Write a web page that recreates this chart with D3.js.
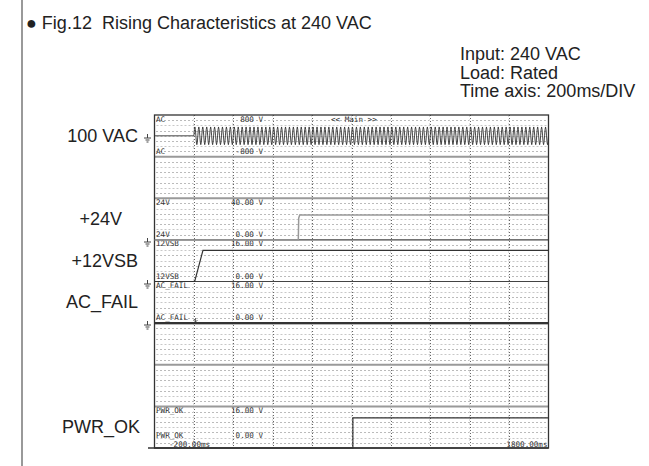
<!doctype html>
<meta charset="utf-8">
<body style="margin:0;background:#fff">
<script src="https://cdn.jsdelivr.net/npm/d3@7"></script>
<script>

// channel setup
var timeDomain = [-200, 1800];                 // ms, 200ms/DIV, 10 DIV
var channelNames = ["AC", "24V", "12VSB", "AC_FAIL", "PWR_OK"];
var channelZones = [0, 2, 3, 4, 7];            // which of the 8 zones
var channelMax = [800, 40, 16, 16, 16];
var channelMin = [-800, 0, 0, 0, 0];
var maxLabels = ["800 V", "40.00 V", "16.00 V", "16.00 V", "16.00 V"];
var minLabels = ["-800 V", "0.00 V", "0.00 V", "0.00 V", "0.00 V"];
var sideLabels = ["100 VAC", "+24V", "+12VSB", "AC_FAIL", "PWR_OK"];
var timeLabels = ["-200.00ms", "1800.00ms"];
var infoLines = ["Input: 240 VAC", "Load: Rated", "Time axis: 200ms/DIV"];
var title = "\u25CF Fig.12  Rising Characteristics at 240 VAC";

// AC input: one cycle in volts, repeated from switch-on
var acStart = 0, acPeriod = 20;
var acCycle = [0, 240, 340, 240, 0, -240, -340, -240];

// [ms, V]
var v24 = [[-200, 0], [530, 0], [532, 21], [537, 24], [1800, 24]];
var v12sb = [[-200, 0], [4, 0], [46, 12], [1800, 12]];
var acFail = [[-200, 0], [1800, 0]];
var pwrOk = [[-200, 0], [807, 0], [807, 11.6], [1800, 11.6]];

var W = 649, H = 466;
var svg = d3.select("body").append("svg")
    .attr("width", W)
    .attr("height", H)
    .style("display", "block");

// page border line on the left
svg.append("line")
    .attr("x1", 22).attr("x2", 22).attr("y1", 0).attr("y2", H)
    .attr("stroke", "#555").attr("stroke-width", 1.2);

svg.append("text")
    .attr("x", 26).attr("y", 29)
    .style("font", "18px 'Liberation Sans', Arial, sans-serif")
    .style("white-space", "pre")
    .attr("fill", "#222")
    .text(title);

svg.selectAll(".info")
    .data(infoLines)
  .enter().append("text")
    .attr("class", "info")
    .attr("x", 460)
    .attr("y", function(d, i) { return 60 + i * 18.5; })
    .style("font", "18px 'Liberation Sans', Arial, sans-serif")
    .attr("fill", "#222")
    .text(function(d) { return d; });

// scope scales
var x = d3.scaleLinear().domain(timeDomain).range([154.5, 548.5]);
var zone = d3.scaleLinear().domain([0, 8]).range([115, 448]);
var zh = zone(1) - zone(0);

function yOf(c) {
  var z = channelZones[c];
  return d3.scaleLinear()
      .domain([channelMin[c], channelMax[c]])
      .range([zone(z + 1), zone(z)]);
}

var scope = svg.append("g");

// dotted grid: 8 rows per zone, one column per division
var rows = d3.range(0, 8).flatMap(function(z) { return d3.range(1, 8).map(function(k) { return [z, k]; }); });
scope.selectAll(".hrow")
    .data(rows)
  .enter().append("line")
    .attr("x1", x(timeDomain[0]) + 2).attr("x2", x(timeDomain[1]) - 1)
    .attr("y1", function(d) { return Math.round(zone(d[0]) + d[1] * zh / 8) + 0.5; })
    .attr("y2", function(d) { return Math.round(zone(d[0]) + d[1] * zh / 8) + 0.5; })
    .attr("stroke", function(d) { return d[1] % 2 ? "#777" : "#c8c8c8"; })
    .attr("stroke-dasharray", function(d) { return d[1] % 2 ? "1,3" : "2,2"; });

var divs = d3.range(timeDomain[0] + 200, timeDomain[1], 200);
scope.selectAll(".vcol")
    .data(divs)
  .enter().append("line")
    .attr("x1", function(d) { return Math.round(x(d)) + 0.5; })
    .attr("x2", function(d) { return Math.round(x(d)) + 0.5; })
    .attr("y1", zone(0)).attr("y2", zone(8))
    .attr("stroke", "#666")
    .attr("stroke-dasharray", "1,2");
scope.selectAll(".vcol2")
    .data(divs)
  .enter().append("line")
    .attr("x1", function(d) { return Math.round(x(d)) - 0.5; })
    .attr("x2", function(d) { return Math.round(x(d)) - 0.5; })
    .attr("y1", zone(0)).attr("y2", zone(8))
    .attr("stroke", "#ddd")
    .attr("stroke-dasharray", "2,2");

// zone separators
var seps = d3.range(1, 8);
scope.selectAll(".sep")
    .data(seps)
  .enter().append("line")
    .attr("x1", x(timeDomain[0])).attr("x2", x(timeDomain[1]))
    .attr("y1", function(d) { return zone(d); })
    .attr("y2", function(d) { return zone(d); })
    .attr("stroke", function(d) { return (d == 3 || d == 4) ? "#444" : "#9a9a9a"; })
    .attr("stroke-width", function(d) { return (d == 3 || d == 4) ? 1.2 : 2; });

// frame
scope.append("rect")
    .attr("x", x(timeDomain[0])).attr("y", zone(0))
    .attr("width", x(timeDomain[1]) - x(timeDomain[0]))
    .attr("height", zone(8) - zone(0))
    .attr("fill", "none").attr("stroke", "#333").attr("stroke-width", 1.3);
scope.append("line")
    .attr("x1", 148).attr("x2", x(timeDomain[1]))
    .attr("y1", zone(8)).attr("y2", zone(8))
    .attr("stroke", "#333").attr("stroke-width", 1.3);

// on-screen labels
var mono = "7.6px 'DejaVu Sans Mono', monospace";
channelNames.forEach(function(name, c) {
  var z = channelZones[c];
  var yTop = zone(z) + 6.5;
  var yBot = z == 7 ? zone(z + 1) - 10 : zone(z + 1) - 3;
  [[yTop, maxLabels[c]], [yBot, minLabels[c]]].forEach(function(p) {
    scope.append("text").attr("x", 156).attr("y", p[0])
        .style("font", mono).attr("fill", "#333").text(name);
    scope.append("text").attr("x", 263).attr("y", p[0])
        .attr("text-anchor", "end")
        .style("font", mono).attr("fill", "#333").text(p[1]);
  });
});
scope.append("text").attr("x", 331).attr("y", zone(0) + 6.5)
    .style("font", mono).attr("fill", "#333").text("<< Main >>");
scope.append("text").attr("x", 169).attr("y", zone(8) - 1)
    .style("font", mono).attr("fill", "#333").text(timeLabels[0]);
scope.append("text").attr("x", x(timeDomain[1]) - 1).attr("y", zone(8) - 1)
    .attr("text-anchor", "end")
    .style("font", mono).attr("fill", "#333").text(timeLabels[1]);

// small trigger mark on the AC_FAIL line
var tf = Math.round(yOf(3)(0));
scope.append("path")
    .attr("d", "M195.5," + (tf - 5) + "V" + (tf - 1) + "M193.5," + (tf - 3) + "L195.5," + (tf - 1) + "L197.5," + (tf - 3))
    .attr("stroke", "#444").attr("fill", "none").attr("stroke-width", 0.8);

// ground markers at each zero level
[0, 1, 2, 3].forEach(function(c) {
  var gy = Math.round(yOf(c)(0)) + 2;
  scope.append("path")
      .attr("d", "M147.5," + (gy - 4) + "V" + gy + "M144," + gy + "H151M145.5," + (gy + 2) + "H149.5M146.5," + (gy + 4) + "H148.5")
      .attr("stroke", "#444").attr("fill", "none").attr("stroke-width", 1);
});

// side labels, centered in their zones
var sideShift = [0, -16, 0, 0, 2];
sideLabels.forEach(function(s, c) {
  var z = channelZones[c];
  svg.append("text")
      .attr("x", 138 + sideShift[c])
      .attr("y", (zone(z) + zone(z + 1)) / 2 + 6)
      .attr("text-anchor", "end")
      .style("font", "18px 'Liberation Sans', Arial, sans-serif")
      .attr("fill", "#222")
      .text(s);
});

// traces
function trace(c, pts, color, w) {
  var y = yOf(c);
  scope.append("path")
      .datum(pts)
      .attr("d", d3.line().x(function(d) { return x(d[0]); }).y(function(d) { return y(d[1]); }))
      .attr("fill", "none").attr("stroke", color).attr("stroke-width", w);
}

var acPts = [[timeDomain[0], 0]];
for (var t = acStart; t <= timeDomain[1]; t += acPeriod) {
  acCycle.forEach(function(v, i) {
    var ti = t + i * acPeriod / acCycle.length;
    if (ti <= timeDomain[1]) acPts.push([ti, v]);
  });
}
trace(0, acPts, "#333", 0.9);
trace(1, v24, "#999", 1.5);
trace(2, v12sb, "#333", 1.2);
trace(3, acFail, "#333", 2.2);
trace(4, pwrOk, "#333", 1.2);

</script>
</body>
